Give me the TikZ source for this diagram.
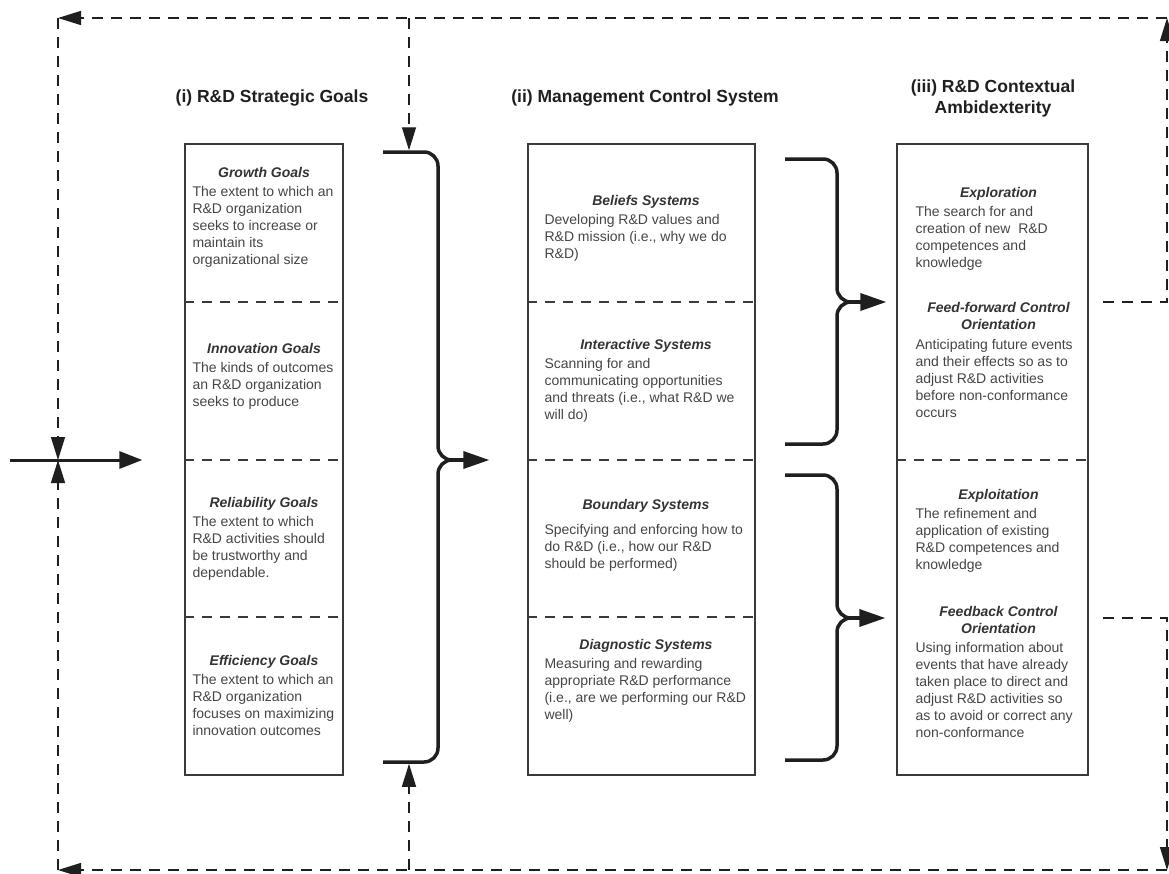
\documentclass[tikz,border=0pt]{standalone}
\usepackage{fontspec}
\setmainfont{Liberation Sans}
\usepackage{xcolor}
\usetikzlibrary{arrows.meta,positioning,calc}
\definecolor{FrameGray}{HTML}{3A3A3A}
\definecolor{TextGray}{HTML}{454545}
\definecolor{HeadGray}{HTML}{333333}
\definecolor{InkDark}{HTML}{1F1F1F}

\begin{document}
\begin{tikzpicture}[
  x=1pt, y=-1pt,
  colbox/.style={draw=FrameGray,line width=1.3pt,minimum width=#1,minimum height=631pt,inner sep=0pt},
  divider/.style={draw=FrameGray,line width=1.2pt,dash pattern=on 10pt off 8pt},
  title/.style={font=\fontsize{17.5}{21}\selectfont\bfseries,text=InkDark,align=center,inner sep=0pt},
  head/.style={font=\fontsize{14}{17}\selectfont\bfseries\itshape,text=HeadGray,align=center,inner sep=0pt,
    execute at begin node=\strut,execute at end node=\strut},
  body/.style={font=\fontsize{14}{17}\selectfont,text=TextGray,align=left,inner sep=0pt,anchor=north west,
    execute at begin node=\strut},
  brace/.style={draw=InkDark,line width=3.5pt,rounded corners=14pt},
  flow/.style={draw=InkDark,line width=3.5pt,-{Triangle[length=26pt,width=17pt]}},
  fbline/.style={draw=InkDark,line width=1.4pt,dash pattern=on 11pt off 8pt},
  fbarrow/.style={fbline,-{Triangle[length=23pt,width=14pt]}}
]
\useasboundingbox (0,0) rectangle (1169,873);

% three columns
\node[colbox=158pt] (goals) at (264,459.5) {};
\node[colbox=227pt] (mcs) at (641.5,459.5) {};
\node[colbox=191pt] (amb) at (992.5,459.5) {};
\foreach \col in {goals,mcs}
  \foreach \y in {302,460,617}
    \draw[divider] (\col.west |- 0,\y) -- (\col.east |- 0,\y);
\draw[divider] (amb.west |- 0,460) -- (amb.east |- 0,460);

\node[title] (goalsTitle) at (272,98.5) {(i) R\&D Strategic Goals};
\node[title] (mcsTitle) at (645,98.5) {(ii) Management Control System};
\node[title] (ambTitle) at (993,98) {(iii) R\&D Contextual\\Ambidexterity};

% (i) strategic goals
\node[head] (growthH) at (264,173.6) {Growth Goals};
\node[body] (growthT) at ($(goals.west |- growthH.south)+(8,4)$)
  {The extent to which an\\R\&D organization\\seeks to increase or\\maintain its\\organizational size};
\node[head] (innovH) at (264,349.6) {Innovation Goals};
\node[body] (innovT) at ($(goals.west |- innovH.south)+(8,4)$)
  {The kinds of outcomes\\an R\&D organization\\seeks to produce};
\node[head] (reliabH) at (264,503.6) {Reliability Goals};
\node[body] (reliabT) at ($(goals.west |- reliabH.south)+(8,4)$)
  {The extent to which\\R\&D activities should\\be trustworthy and\\dependable.};
\node[head] (effH) at (264,661.6) {Efficiency Goals};
\node[body] (effT) at ($(goals.west |- effH.south)+(8,4)$)
  {The extent to which an\\R\&D organization\\focuses on maximizing\\innovation outcomes};

% (ii) management control system
\node[head] (beliefH) at (646,201.6) {Beliefs Systems};
\node[body] (beliefT) at ($(mcs.west |- beliefH.south)+(17,4)$)
  {Developing R\&D values and\\R\&D mission (i.e., why we do\\R\&D)};
\node[head] (interH) at (646,345.6) {Interactive Systems};
\node[body] (interT) at ($(mcs.west |- interH.south)+(17,4)$)
  {Scanning for and\\communicating opportunities\\and threats (i.e., what R\&D we\\will do)};
\node[head] (boundH) at (646,505.6) {Boundary Systems};
\node[body] (boundT) at ($(mcs.west |- boundH.south)+(17,9.5)$)
  {Specifying and enforcing how to\\do R\&D (i.e., how our R\&D\\should be performed)};
\node[head] (diagH) at (646,645.6) {Diagnostic Systems};
\node[body] (diagT) at ($(mcs.west |- diagH.south)+(17,4)$)
  {Measuring and rewarding\\appropriate R\&D performance\\(i.e., are we performing our R\&D\\well)};

% (iii) contextual ambidexterity
\node[head] (explH) at (998.5,193.6) {Exploration};
\node[body] (explT) at ($(amb.west |- explH.south)+(19,4)$)
  {The search for and\\creation of new\ \ R\&D\\competences and\\knowledge};
\node[head] (ffH) at (998.5,318.1) {Feed-forward Control\\Orientation};
\node[body] (ffT) at ($(amb.west |- ffH.south)+(19,5)$)
  {Anticipating future events\\and their effects so as to\\adjust R\&D activities\\before non-conformance\\occurs};
\node[head] (exploitH) at (998.5,495.6) {Exploitation};
\node[body] (exploitT) at ($(amb.west |- exploitH.south)+(19,4)$)
  {The refinement and\\application of existing\\R\&D competences and\\knowledge};
\node[head] (fbH) at (998.5,622.1) {Feedback Control\\Orientation};
\node[body] (fbT) at ($(amb.west |- fbH.south)+(19,4)$)
  {Using information about\\events that have already\\taken place to direct and\\adjust R\&D activities so\\as to avoid or correct any\\non-conformance};

% braces
\coordinate (gTop) at (383,152);
\coordinate (gTip) at (452,460);
\coordinate (gBot) at (383,762);
\draw[brace] (gTop) -- (438,152) -- (438,460) -- (gTip);
\draw[brace] (gTip) -- (438,460) -- (438,762) -- (gBot);
\coordinate (eTip) at (851,302);
\draw[brace] (785,159) -- (837,159) -- (837,302) -- (eTip);
\draw[brace] (eTip) -- (837,302) -- (837,444) -- (785,444);
\coordinate (xTip) at (851,618);
\draw[brace] (785,475) -- (837,475) -- (837,618) -- (xTip);
\draw[brace] (xTip) -- (837,618) -- (837,760) -- (785,760);

\draw[flow] (gTip) -- (gTip -| mcs.west) [shorten >=38pt];
\draw[flow] (eTip) -- (eTip -| amb.west) [shorten >=10pt];
\draw[flow] (xTip) -- (xTip -| amb.west) [shorten >=11pt];

% input arrow
\coordinate (inStart) at (10,460);
\draw[flow,line width=3pt,-{Triangle[length=23pt,width=17pt]},shorten >=42pt] (inStart) -- (inStart -| goals.west);

% feedback loops
\coordinate (tl) at (58,18);
\coordinate (tr) at (1167,18);
\coordinate (bl) at (58,870);
\coordinate (br) at (1167,870);
\coordinate (tMid) at (409,18);
\coordinate (bMid) at (409,870);
\coordinate (inJoin) at (58,460);
\coordinate (eOut) at (1103,302);
\coordinate (xOut) at (1103,618);

\draw[fbarrow] (eOut) -- (eOut -| tr) -- (tr);
\draw[fbarrow] (tr) -- (tl);
\draw[fbarrow] (tl) -- (inJoin);
\draw[fbarrow,shorten >=1.75pt] (tMid) -- (tMid |- gTop);
\draw[fbarrow] (xOut) -- (xOut -| br) -- (br);
\draw[fbarrow] (br) -- (bl);
\draw[fbarrow] (bl) -- (inJoin);
\draw[fbarrow,shorten >=1.75pt] (bMid) -- (bMid |- gBot);
\end{tikzpicture}
\end{document}
